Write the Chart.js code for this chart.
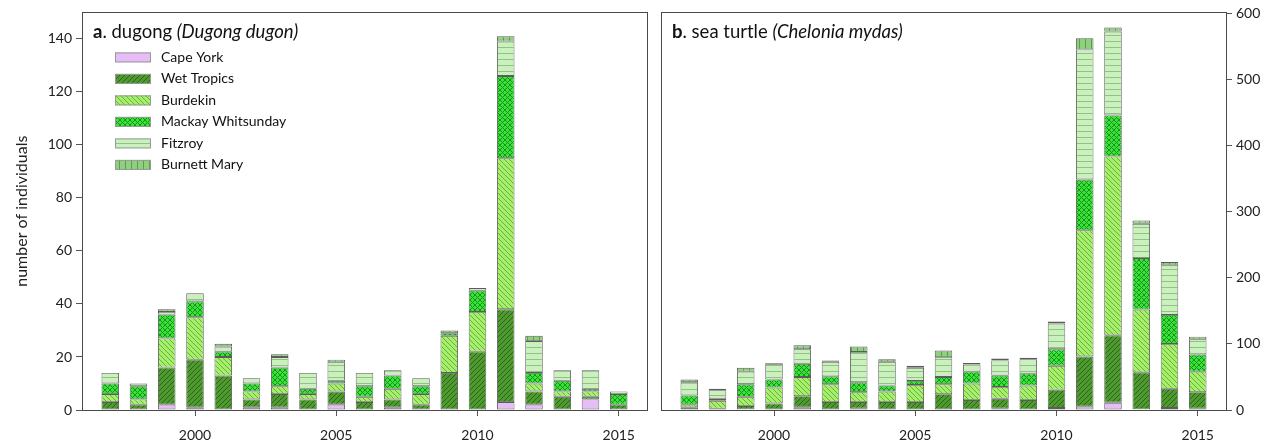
<!DOCTYPE html>
<html>
<head>
<meta charset="utf-8">
<script src="https://cdn.jsdelivr.net/npm/chart.js@4.4.0/dist/chart.umd.min.js"></script>
<style>
  body { margin: 0; background: #fff; }
  #wrap { position: relative; width: 1271px; height: 444px; }
  #left { position: absolute; left: 0; top: 0; }
  #right { position: absolute; left: 654px; top: 0; }
</style>
</head>
<body>
<div id="wrap">
  <canvas id="left" width="654" height="444"></canvas>
  <canvas id="right" width="617" height="444"></canvas>
</div>
<script>
// years on the x axis
const years = [1997, 1998, 1999, 2000, 2001, 2002, 2003, 2004, 2005, 2006, 2007, 2008, 2009, 2010, 2011, 2012, 2013, 2014, 2015];
const regions = ['Cape York', 'Wet Tropics', 'Burdekin', 'Mackay Whitsunday', 'Fitzroy', 'Burnett Mary'];
const xTicks = [2000, 2005, 2010, 2015];

// a. dugong
const dugongCapeYork   = [0, 0, 2, 1, 0, 1, 1, 0, 2, 0, 1, 0, 0, 0, 3, 2, 0, 4, 0];
const dugongWetTropics = [3, 2, 14, 18, 13, 3, 5, 4, 5, 3, 3, 2, 14, 22, 35, 5, 5, 1, 2];
const dugongBurdekin   = [3, 2, 11, 16, 7, 3, 3, 2, 3, 2, 4, 4, 14, 15, 57, 3, 2, 2, 0];
const dugongMackay     = [4, 5, 9, 6, 2, 3, 7, 2, 1, 4, 5, 3, 1, 8, 31, 4, 4, 1, 4];
const dugongFitzroy    = [4, 1, 1, 3, 2, 2, 4, 6, 7, 5, 2, 3, 0, 1, 13, 12, 4, 7, 1];
const dugongBurnett    = [0, 0, 1, 0, 1, 0, 1, 0, 1, 0, 0, 0, 1, 0, 2, 2, 0, 0, 0];
const dugongTicks = [0, 20, 40, 60, 80, 100, 120, 140];

// b. sea turtle
const turtleCapeYork   = [0, 0, 1, 0, 4, 0, 2, 0, 0, 0, 0, 2, 0, 3, 5, 11, 1, 3, 2];
const turtleWetTropics = [4, 2, 5, 10, 17, 12, 10, 12, 12, 24, 15, 15, 15, 28, 76, 102, 56, 29, 25];
const turtleBurdekin   = [4, 12, 14, 24, 29, 27, 15, 16, 26, 15, 25, 18, 22, 36, 191, 271, 95, 68, 31];
const turtleMackay     = [14, 3, 19, 12, 20, 12, 15, 9, 6, 11, 18, 17, 18, 25, 77, 62, 78, 44, 26];
const turtleFitzroy    = [20, 13, 19, 24, 22, 22, 46, 36, 20, 30, 11, 23, 22, 39, 197, 127, 52, 75, 23];
const turtleBurnett    = [4, 2, 6, 1, 6, 2, 8, 4, 3, 10, 2, 3, 2, 3, 17, 6, 5, 5, 4];
const turtleTicks = [0, 100, 200, 300, 400, 500, 600];

Chart.defaults.font.family = 'Lato, "Open Sans", sans-serif';
Chart.defaults.color = '#222';

// fill styles per region: background, line colour, hatch kind
const fills = [
  ['#e6bdf7', '#e6bdf7', 'none'],
  ['#4f9a30', '#2a6616', 'fwd'],
  ['#a6ee6c', '#62b536', 'back'],
  ['#3ae23a', '#17951b', 'cross'],
  ['#c9f0bd', '#8fc283', 'horiz'],
  ['#8fd07f', '#5b9e4e', 'vert']
];

function makePattern(ctx, bg, fg, kind) {
  const size = kind === 'horiz' || kind === 'vert' ? 6 : 5;
  const c = document.createElement('canvas');
  c.width = size; c.height = size;
  const g = c.getContext('2d');
  g.fillStyle = bg;
  g.fillRect(0, 0, size, size);
  g.strokeStyle = fg;
  g.lineWidth = 1;
  g.beginPath();
  if (kind === 'fwd' || kind === 'cross') {
    g.moveTo(-1, size + 1); g.lineTo(size + 1, -1);
    g.moveTo(-1, 1); g.lineTo(1, -1);
    g.moveTo(size - 1, size + 1); g.lineTo(size + 1, size - 1);
  }
  if (kind === 'back' || kind === 'cross') {
    g.moveTo(-1, -1); g.lineTo(size + 1, size + 1);
    g.moveTo(size - 1, -1); g.lineTo(size + 1, 1);
    g.moveTo(-1, size - 1); g.lineTo(1, size + 1);
  }
  if (kind === 'horiz') { g.moveTo(0, size - 0.5); g.lineTo(size, size - 0.5); }
  if (kind === 'vert') { g.moveTo(size - 0.5, 0); g.lineTo(size - 0.5, size); }
  g.stroke();
  return ctx.createPattern(c, 'repeat');
}

// frame round the plot area
const framePlugin = {
  id: 'frame',
  afterDraw(chart) {
    const { ctx, chartArea: a } = chart;
    ctx.save();
    ctx.strokeStyle = '#4a4a4a';
    ctx.lineWidth = 1;
    ctx.strokeRect(Math.round(a.left) + 0.5, Math.round(a.top) + 0.5, Math.round(a.right - a.left), Math.round(a.bottom - a.top));
    ctx.restore();
  }
};

// panel title: bold letter, plain name, italic latin name
function titlePlugin(letter, name, latin) {
  return {
    id: 'panelTitle',
    afterDraw(chart) {
      const { ctx, chartArea: a } = chart;
      let x = a.left + 11;
      const y = a.top + 20;
      ctx.save();
      ctx.fillStyle = '#111';
      ctx.textBaseline = 'middle';
      ctx.font = 'bold 18.5px Lato';
      ctx.fillText(letter, x, y);
      x += ctx.measureText(letter).width;
      ctx.font = '18.5px Lato';
      ctx.fillText(name, x, y);
      x += ctx.measureText(name).width;
      ctx.font = 'italic 18.5px Lato';
      ctx.fillText(latin, x, y);
      ctx.restore();
    }
  };
}

const legendPlugin = {
  id: 'boxLegend',
  afterDraw(chart) {
    const { ctx, chartArea: a } = chart;
    ctx.save();
    ctx.font = '14px Lato';
    ctx.textBaseline = 'middle';
    chart.data.datasets.forEach((ds, i) => {
      const y = a.top + 40 + i * 21.5;
      ctx.fillStyle = ds.backgroundColor;
      ctx.fillRect(a.left + 33, y, 36, 10);
      ctx.strokeStyle = '#9a9a9a';
      ctx.lineWidth = 1;
      ctx.strokeRect(a.left + 33.5, y + 0.5, 35, 9);
      ctx.fillStyle = '#111';
      ctx.fillText(ds.label, a.left + 79, y + 5);
    });
    ctx.restore();
  }
};

function buildChart(id, series, yMax, yTicks, side, plugins) {
  const canvas = document.getElementById(id);
  const ctx = canvas.getContext('2d');
  const datasets = regions.map((name, i) => ({
    label: name,
    data: years.map((yr, j) => ({ x: yr, y: series[i][j] || null })),
    backgroundColor: makePattern(ctx, fills[i][0], fills[i][1], fills[i][2]),
    borderColor: '#5c5c5c',
    borderWidth: 0.9,
    borderSkipped: false,
    barPercentage: 0.62,
    categoryPercentage: 1
  }));
  return new Chart(canvas, {
    type: 'bar',
    data: { datasets },
    options: {
      responsive: false,
      animation: false,
      layout: { padding: side === 'left' ? { top: 7, right: 7, left: 0, bottom: 0 } : { top: 7, left: 7, right: 0, bottom: 0 } },
      plugins: { legend: { display: false }, tooltip: { enabled: false } },
      scales: {
        x: {
          type: 'linear',
          stacked: true,
          offset: false,
          min: 1996,
          max: 2016,
          afterBuildTicks: s => { s.ticks = xTicks.map(v => ({ value: v })); },
          afterFit: s => { s.height = 34; },
          ticks: { callback: v => String(v), font: { size: 14 }, padding: 11, maxRotation: 0 },
          grid: { offset: false, drawOnChartArea: false, tickLength: 6, color: '#555' },
          border: { display: false }
        },
        y: {
          position: side,
          stacked: true,
          min: 0,
          max: yMax,
          afterBuildTicks: s => { s.ticks = yTicks.map(v => ({ value: v })); },
          afterFit: s => { s.width = side === 'left' ? 82 : 45; },
          ticks: { font: { size: 14 }, padding: 4 },
          grid: { drawOnChartArea: false, tickLength: 6, color: '#555' },
          border: { display: false },
          title: {
            display: side === 'left',
            text: 'number of individuals',
            font: { size: 16 },
            padding: { top: 12, bottom: 0 }
          }
        }
      }
    },
    plugins: plugins
  });
}

buildChart('left',
  [dugongCapeYork, dugongWetTropics, dugongBurdekin, dugongMackay, dugongFitzroy, dugongBurnett],
  150, dugongTicks, 'left',
  [framePlugin, titlePlugin('a', '. dugong ', '(Dugong dugon)'), legendPlugin]);

buildChart('right',
  [turtleCapeYork, turtleWetTropics, turtleBurdekin, turtleMackay, turtleFitzroy, turtleBurnett],
  602, turtleTicks, 'right',
  [framePlugin, titlePlugin('b', '. sea turtle ', '(Chelonia mydas)')]);
</script>
</body>
</html>
